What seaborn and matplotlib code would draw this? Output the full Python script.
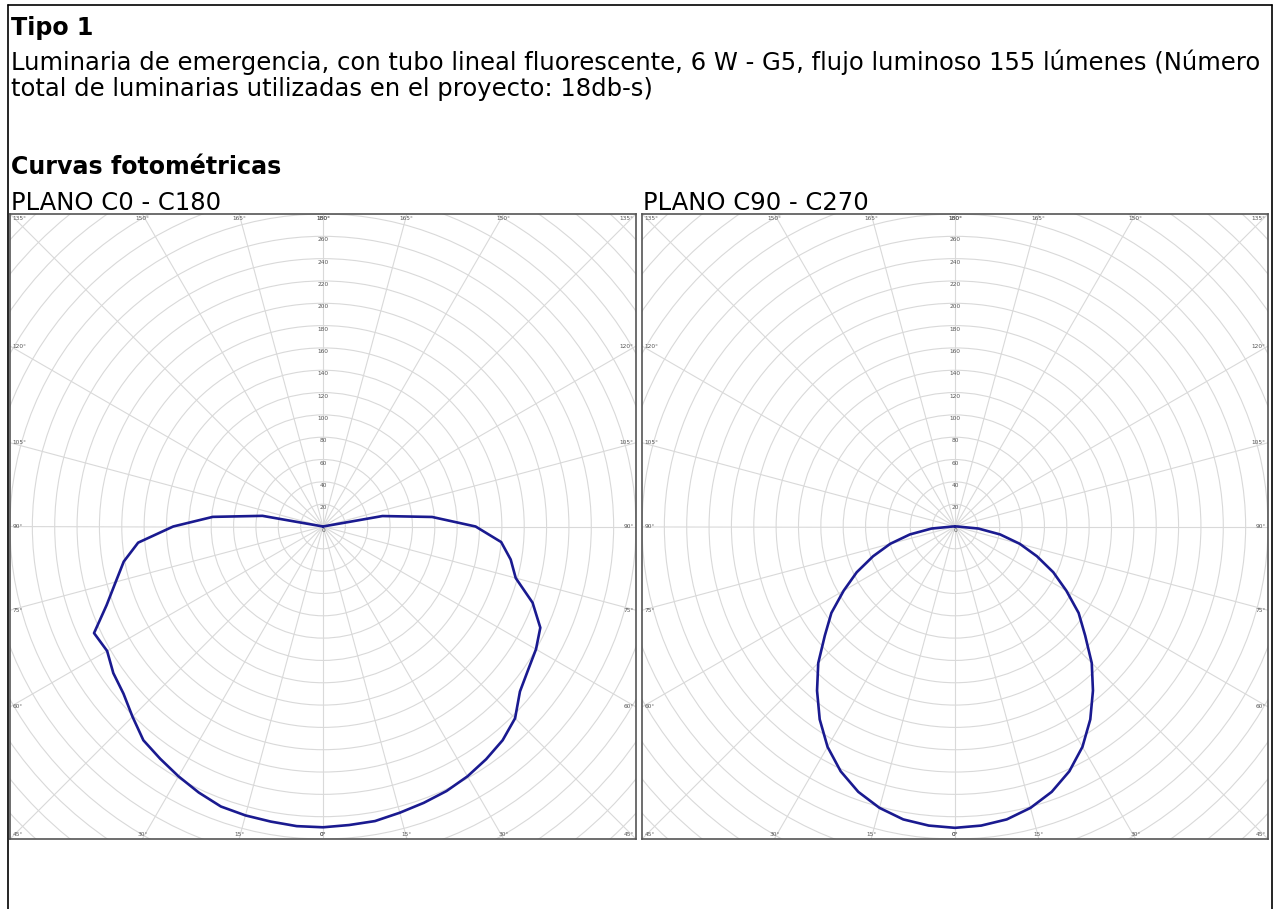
import numpy as np
import pandas as pd
import matplotlib.pyplot as plt
import seaborn as sns

# ─────────────────────────────────────────────
# Datos (cd) por ángulo gamma, 0° = nadir
# ─────────────────────────────────────────────
gamma = list(range(0, 185, 5))

c0 = [269.5, 268.5, 268, 265.5, 263.5, 261.5, 258.5, 254.5, 250, 243,
      230, 224, 220, 214.5, 199.5, 178.5, 170.5, 160, 136.5, 98, 54,
      0, 0, 0, 0, 0, 0, 0, 0, 0, 0, 0, 0, 0, 0, 0, 0]
c180 = [269.5, 269.5, 268.5, 268, 267, 263, 258.5, 254, 250, 241,
        233, 229, 223, 226, 206, 192, 181, 166, 134, 99, 55,
        0, 0, 0, 0, 0, 0, 0, 0, 0, 0, 0, 0, 0, 0, 0, 0]
c90 = [270, 269, 266.5, 261, 253, 242, 228, 211, 192, 173, 152, 135,
       115, 97, 78, 60, 41, 21, 2, 0, 0, 0, 0, 0, 0, 0, 0, 0, 0, 0,
       0, 0, 0, 0, 0, 0, 0]
c270 = [270, 269, 266.5, 261, 253, 242, 228, 211, 192, 173, 152, 135,
        115, 97, 78, 60, 41, 21, 2, 0, 0, 0, 0, 0, 0, 0, 0, 0, 0, 0,
        0, 0, 0, 0, 0, 0, 0]

anillos = list(range(20, 400, 20))
etiquetas_anillos = list(range(20, 280, 20))
angulos_grid = list(range(0, 360, 15))
angulos_borde = [0, 15, 30, 45, 60, 75, 90, 105, 120, 135, 150, 165, 180]

titulo = "Tipo 1"
descripcion = ["Luminaria de emergencia, con tubo lineal fluorescente, 6 W - G5, flujo luminoso 155 lúmenes (Número",
               "total de luminarias utilizadas en el proyecto: 18db-s)"]
subtitulo = "Curvas fotométricas"
planos = ["PLANO C0 - C180", "PLANO C90 - C270"]

LIM = 280
W, H = 1277, 909

sns.set_style("white")
plt.rcParams["font.family"] = ["DejaVu Sans"]

fig = plt.figure(figsize=(W / 100, H / 100), dpi=100)


def curva(izq, der):
    g = np.radians(gamma)
    xi = -np.array(izq) * np.sin(g)
    yi = -np.array(izq) * np.cos(g)
    xd = np.array(der) * np.sin(g)
    yd = -np.array(der) * np.cos(g)
    return pd.DataFrame({"x": np.concatenate([xi[::-1], xd]),
                         "y": np.concatenate([yi[::-1], yd])})


def polar(ax, izq, der):
    grid = "#d9d9d9"
    for r in anillos:
        ax.add_patch(plt.Circle((0, 0), r, fill=False, color=grid, lw=0.8))
    for a in angulos_grid:
        t = np.radians(a)
        ax.plot([0, 500 * np.sin(t)], [0, -500 * np.cos(t)], color=grid, lw=0.8)
    for r in etiquetas_anillos:
        ax.text(0, r - 1, str(r), fontsize=4.2, color="#555555", ha="center", va="top")
    ax.text(0, -1, "0", fontsize=4.2, color="#555555", ha="center", va="top")

    df = curva(izq, der)
    sns.lineplot(data=df, x="x", y="y", sort=False, estimator=None,
                 color="#1a1a90", lw=1.9, ax=ax)

    # etiquetas de ángulo en el borde del recuadro
    for lado in (-1, 1):
        for a in angulos_borde:
            t = np.radians(a)
            dx, dy = lado * np.sin(t), -np.cos(t)
            k = LIM / max(abs(dx), abs(dy))
            x, y = dx * k, dy * k
            if abs(dy) >= abs(dx) - 1e-9 and abs(dx) < 0.99:
                va = "top" if y > 0 else "bottom"
                ha = "center"
                if abs(abs(dx) - abs(dy)) < 1e-6:
                    ha = "left" if x < 0 else "right"
            else:
                va = "center"
                ha = "left" if x < 0 else "right"
            off = 2 if ha == "left" else (-2 if ha == "right" else 0)
            offy = -2 if va == "top" else (2 if va == "bottom" else 0)
            ax.text(x + off, y + offy, f"{a}°", fontsize=4.2, color="#555555",
                    ha=ha, va=va)

    ax.set_xlim(-LIM, LIM)
    ax.set_ylim(-LIM, LIM)
    ax.set_aspect("auto")
    ax.set_xticks([])
    ax.set_yticks([])
    ax.set_xlabel("")
    ax.set_ylabel("")
    for s in ax.spines.values():
        s.set_visible(True)
        s.set_color("#555555")
        s.set_linewidth(1.2)


ax1 = fig.add_axes([10 / W, 1 - 839 / H, 626 / W, 625 / H])
ax2 = fig.add_axes([642 / W, 1 - 839 / H, 626 / W, 625 / H])
polar(ax1, c180, c0)
polar(ax2, c270, c90)

# textos
fs = 17.5
fig.text(11 / W, 1 - 35 / H, titulo, fontsize=fs - 0.4, fontweight="bold", va="baseline", color="black")
fig.text(11 / W, 1 - 70 / H, descripcion[0], fontsize=fs, va="baseline", color="black")
fig.text(11 / W, 1 - 96 / H, descripcion[1], fontsize=fs, va="baseline", color="black")
fig.text(11 / W, 1 - 174 / H, subtitulo, fontsize=fs - 0.4, fontweight="bold", va="baseline", color="black")
fig.text(11 / W, 1 - 210 / H, planos[0], fontsize=fs, va="baseline", color="black")
fig.text(643 / W, 1 - 210 / H, planos[1], fontsize=fs, va="baseline", color="black")

# borde de la página
fig.add_artist(plt.Line2D([8 / W, 8 / W], [0, 1 - 5 / H], color="black", lw=1.2))
fig.add_artist(plt.Line2D([8 / W, 1272 / W], [1 - 5 / H, 1 - 5 / H], color="black", lw=1.2))
fig.add_artist(plt.Line2D([1272 / W, 1272 / W], [0, 1 - 5 / H], color="black", lw=1.2))

fig.savefig("out.png", dpi=100)
